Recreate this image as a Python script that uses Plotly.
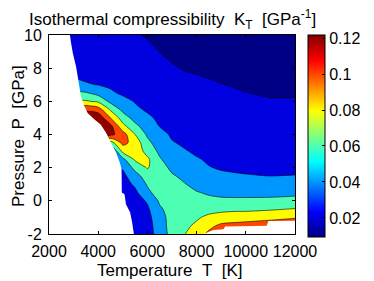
import plotly.graph_objects as go

# ---------------- data ----------------
temperature_K = [2500, 3000, 3500, 4000, 4500, 5000, 5500, 6000, 6500,
                 7000, 7500, 8000, 8500, 9000, 9500, 10000, 11000, 12000]
# pressure rows, top (10 GPa) to bottom (-2 GPa)
pressure_GPa = [10, 9, 8, 7.5, 7, 6.5, 6, 5.5, 5, 4.5, 4, 3.5, 3, 2.5, 2,
                1.5, 1, 0.5, 0, -0.5, -1, -1.5, -2]

# K_T [1/GPa], one list per temperature column (values listed top to bottom)
kt_T2500 = [0.029, 0.033, 0.038, 0.041, 0.048, 0.066, 0.084, 0.118, 0.13, 0.13, 0.12, 0.11, 0.10, 0.09, 0.08, 0.07, 0.06, 0.05, 0.045, 0.04, 0.04, 0.04, 0.04]
kt_T3000 = [0.027, 0.031, 0.036, 0.039, 0.046, 0.064, 0.083, 0.118, 0.13, 0.13, 0.12, 0.11, 0.10, 0.09, 0.08, 0.07, 0.06, 0.05, 0.045, 0.04, 0.04, 0.04, 0.04]
kt_T3500 = [0.025, 0.029, 0.034, 0.037, 0.0415, 0.062, 0.082, 0.118, 0.13, 0.13, 0.125, 0.11, 0.10, 0.09, 0.08, 0.07, 0.06, 0.05, 0.045, 0.04, 0.04, 0.04, 0.04]
kt_T4000 = [0.024, 0.028, 0.033, 0.036, 0.0395, 0.053, 0.0767, 0.11, 0.135, 0.135, 0.13, 0.11, 0.09, 0.07, 0.055, 0.047, 0.042, 0.038, 0.036, 0.035, 0.035, 0.035, 0.035]
kt_T4500 = [0.023, 0.027, 0.032, 0.035, 0.0375, 0.0425, 0.055, 0.0775, 0.10, 0.126, 0.125, 0.07, 0.035, 0.038, 0.035, 0.032, 0.03, 0.03, 0.03, 0.03, 0.03, 0.03, 0.03]
kt_T5000 = [0.022, 0.025, 0.03, 0.033, 0.035, 0.0375, 0.045, 0.055, 0.07, 0.086, 0.109, 0.106, 0.086, 0.055, 0.042, 0.035, 0.032, 0.03, 0.03, 0.03, 0.03, 0.03, 0.03]
kt_T5500 = [0.0205, 0.024, 0.029, 0.031, 0.034, 0.036, 0.039, 0.043, 0.053, 0.065, 0.08, 0.092, 0.094, 0.083, 0.066, 0.052, 0.043, 0.036, 0.032, 0.03, 0.029, 0.028, 0.028]
kt_T6000 = [0.0195, 0.0215, 0.025, 0.027, 0.029, 0.031, 0.034, 0.038, 0.043, 0.05, 0.057, 0.065, 0.072, 0.084, 0.0815, 0.07, 0.062, 0.055, 0.042, 0.037, 0.034, 0.033, 0.033]
kt_T6500 = [0.0175, 0.0199, 0.023, 0.0255, 0.028, 0.03, 0.033, 0.035, 0.037, 0.0395, 0.045, 0.05, 0.056, 0.062, 0.068, 0.072, 0.073, 0.07, 0.063, 0.057, 0.052, 0.049, 0.047]
kt_T7000 = [0.016, 0.018, 0.021, 0.023, 0.025, 0.027, 0.029, 0.031, 0.033, 0.035, 0.038, 0.041, 0.045, 0.05, 0.056, 0.062, 0.066, 0.068, 0.068, 0.068, 0.068, 0.069, 0.068]
kt_T7500 = [0.015, 0.017, 0.0195, 0.021, 0.023, 0.025, 0.027, 0.029, 0.031, 0.033, 0.035, 0.038, 0.041, 0.045, 0.05, 0.056, 0.061, 0.064, 0.066, 0.068, 0.071, 0.075, 0.079]
kt_T8000 = [0.014, 0.016, 0.0185, 0.0205, 0.022, 0.024, 0.026, 0.028, 0.03, 0.032, 0.034, 0.036, 0.038, 0.041, 0.045, 0.049, 0.055, 0.061, 0.066, 0.071, 0.077, 0.084, 0.092]
kt_T8500 = [0.0135, 0.0155, 0.018, 0.0195, 0.0215, 0.023, 0.025, 0.027, 0.029, 0.031, 0.033, 0.035, 0.037, 0.0385, 0.0405, 0.045, 0.051, 0.058, 0.064, 0.072, 0.085, 0.095, 0.104]
kt_T9000 = [0.013, 0.015, 0.017, 0.0185, 0.0203, 0.022, 0.024, 0.026, 0.028, 0.03, 0.032, 0.034, 0.0355, 0.037, 0.039, 0.042, 0.048, 0.055, 0.064, 0.075, 0.088, 0.104, 0.118]
kt_T9500 = [0.0125, 0.0145, 0.0165, 0.018, 0.0195, 0.021, 0.0225, 0.0245, 0.0265, 0.0285, 0.0305, 0.0325, 0.034, 0.0355, 0.038, 0.0415, 0.047, 0.054, 0.064, 0.076, 0.09, 0.106, 0.118]
kt_T10000 = [0.012, 0.014, 0.016, 0.0172, 0.0185, 0.0202, 0.0218, 0.0236, 0.0255, 0.0275, 0.0295, 0.0315, 0.0333, 0.035, 0.0375, 0.0408, 0.0465, 0.054, 0.064, 0.076, 0.091, 0.108, 0.118]
kt_T11000 = [0.0112, 0.0132, 0.0152, 0.0164, 0.0177, 0.019, 0.0208, 0.0225, 0.0243, 0.0262, 0.0282, 0.0302, 0.032, 0.0342, 0.0368, 0.0399, 0.0462, 0.054, 0.0645, 0.078, 0.094, 0.112, 0.118]
kt_T12000 = [0.0105, 0.0125, 0.0145, 0.0158, 0.0172, 0.0193, 0.0207, 0.0223, 0.024, 0.0258, 0.0277, 0.0297, 0.0318, 0.034, 0.0366, 0.0405, 0.047, 0.0555, 0.066, 0.081, 0.098, 0.115, 0.118]

kt_columns = [kt_T2500, kt_T3000, kt_T3500, kt_T4000, kt_T4500, kt_T5000,
              kt_T5500, kt_T6000, kt_T6500, kt_T7000, kt_T7500, kt_T8000,
              kt_T8500, kt_T9000, kt_T9500, kt_T10000, kt_T11000, kt_T12000]

# regions without data (left: below the liquid domain; bottom right: beyond spinodal)
nodata_left_T = [2000, 2850, 2900, 2970, 3100, 3170, 3230, 3300, 3440, 3570, 3850,
                 4100, 4320, 4520, 4730, 4880, 4950, 4960, 5070, 5130, 5300, 5380,
                 5450, 5450, 2000]
nodata_left_P = [10, 10, 9.5, 8.9, 8.1, 7.4, 6.8, 6.3, 5.7, 5.3, 4.9,
                 4.6, 4.1, 3.5, 2.9, 2.3, 1.9, 0.5, 0.4, -0.2, -0.7, -1.3,
                 -1.9, -2, -2]
nodata_right_T = [8270, 8690, 9090, 9160, 10850, 10920, 12000, 12000]
nodata_right_P = [-2, -1.76, -1.72, -1.55, -1.5, -1.22, -1.2, -2]

levels = [0.02, 0.04, 0.06, 0.08, 0.10, 0.12]
cb_range = [0.0094, 0.1217]
x_ticks = [2000, 4000, 6000, 8000, 10000, 12000]
y_ticks = [-2, 0, 2, 4, 6, 8, 10]
cb_ticks = [0.02, 0.04, 0.06, 0.08, 0.1, 0.12]

# ---------------- figure ----------------
z_rows = [list(r) for r in zip(*kt_columns)][::-1]
p_rows = pressure_GPa[::-1]

# MATLAB-style contourf band colours (colour of each band's lower level)
band_colors = ['rgb(0,0,135)', 'rgb(0,0,224)', 'rgb(0,150,255)',
               'rgb(77,255,178)', 'rgb(255,251,0)', 'rgb(255,70,0)',
               'rgb(143,0,0)']
nb = len(band_colors)
band_scale = []
for k, c in enumerate(band_colors):
    lo = max(0.0, (k - 0.5) / (nb - 1))
    hi = min(1.0, (k + 0.5) / (nb - 1))
    band_scale.append([lo, c])
    band_scale.append([hi, c])

jet = [[0, 'rgb(0,0,128)'], [0.125, 'rgb(0,0,255)'], [0.375, 'rgb(0,255,255)'],
       [0.625, 'rgb(255,255,0)'], [0.875, 'rgb(255,0,0)'], [1, 'rgb(128,0,0)']]

fig = go.Figure()
fig.add_trace(go.Contour(
    x=temperature_K, y=p_rows, z=z_rows,
    autocontour=False,
    contours=dict(start=levels[0], end=levels[-1], size=levels[1] - levels[0],
                  coloring='fill', showlines=True),
    line=dict(color='black', width=0.6, smoothing=0.8),
    colorscale=band_scale, showscale=False, hoverinfo='skip'))

for tx, py in [(nodata_left_T, nodata_left_P), (nodata_right_T, nodata_right_P)]:
    fig.add_trace(go.Scatter(x=tx, y=py, mode='lines', fill='toself',
                             fillcolor='white', line=dict(width=0, color='white'),
                             hoverinfo='skip'))

# colour bar (continuous jet, as in the original)
fig.add_trace(go.Scatter(
    x=[2200], y=[-1.8], mode='markers', hoverinfo='skip',
    marker=dict(size=1, opacity=0, color=[cb_range[0]], colorscale=jet,
                cmin=cb_range[0], cmax=cb_range[1], showscale=True,
                colorbar=dict(x=1.0528, xanchor='left', xpad=0,
                              y=1, yanchor='top', ypad=0,
                              len=202, lenmode='pixels',
                              thickness=17, thicknessmode='pixels',
                              outlinecolor='black', outlinewidth=1,
                              ticks='inside', ticklen=3, tickcolor='black',
                              tickvals=cb_ticks,
                              ticktext=[f'{v:g}' for v in cb_ticks],
                              tickfont=dict(size=16, color='black')))))

axis_common = dict(ticks='inside', ticklen=3, tickcolor='black', showline=True,
                   linecolor='black', linewidth=1, mirror='allticks',
                   showgrid=False, zeroline=False, automargin=False,
                   tickfont=dict(size=16, color='black'))

fig.update_layout(
    width=374, height=281, autosize=False,
    margin=dict(l=49, r=79, t=35, b=47, pad=0, autoexpand=False),
    paper_bgcolor='white', plot_bgcolor='white', showlegend=False,
    font=dict(family='Liberation Sans, Arial, sans-serif', size=16, color='black'),
    xaxis=dict(range=[2000, 12000], tickvals=x_ticks, ticklabelstandoff=3,
               ticktext=[str(v) for v in x_ticks], **axis_common),
    yaxis=dict(range=[-2, 10], tickvals=y_ticks, ticklabelstandoff=3,
               ticktext=[str(v) for v in y_ticks], **axis_common),
    annotations=[
        dict(text='Isothermal compressibility\u00a0\u00a0K<sub>T</sub>\u00a0\u00a0[GPa<sup>-1</sup>]',
             xref='paper', yref='paper', x=0.5, y=1.08, xanchor='center',
             yanchor='middle', showarrow=False, font=dict(size=17)),
        dict(text='Temperature\u00a0\u00a0T\u00a0\u00a0[K]', xref='paper', yref='paper',
             x=0.492, y=-0.181, xanchor='center', yanchor='middle',
             showarrow=False, font=dict(size=17)),
        dict(text='Pressure\u00a0\u00a0P\u00a0\u00a0[GPa]', xref='paper', yref='paper',
             x=-0.122, y=0.4925, xanchor='center', yanchor='middle',
             textangle=-90, showarrow=False, font=dict(size=17)),
    ],
)

fig.write_html('out.html', config={'displayModeBar': False},
               post_script="document.body.style.margin='0px';document.body.style.overflow='hidden';")
